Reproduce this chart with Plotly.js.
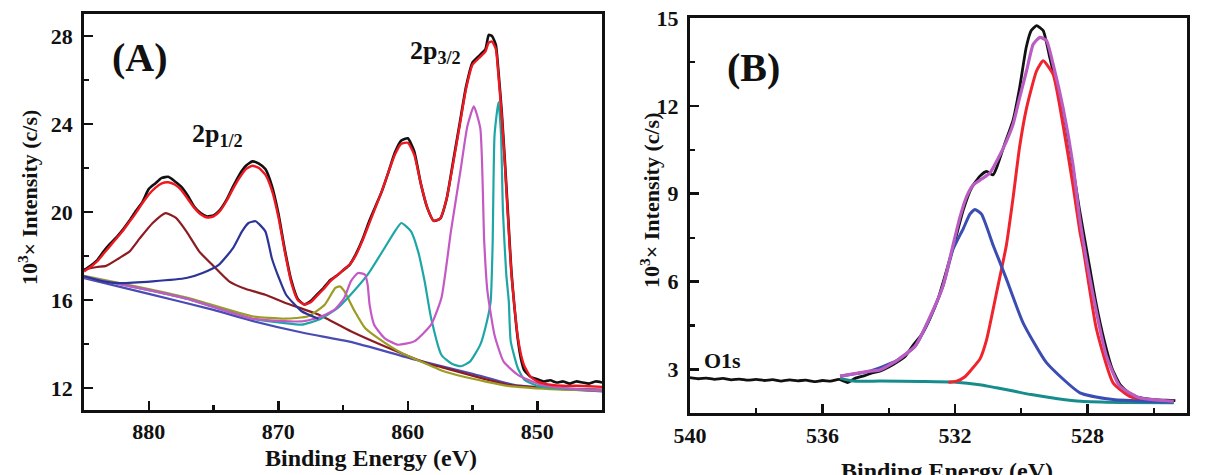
<!DOCTYPE html>
<html>
<head>
<meta charset="utf-8">
<script src="https://cdn.plot.ly/plotly-3.0.1.min.js"></script>
<style>
  html, body { margin: 0; padding: 0; background: #fff; }
  #chart { width: 1206px; height: 475px; }
</style>
</head>
<body>
<div id="chart"></div>
<script>
// ---------- Panel A: Ni 2p region ----------
const aRawE = [885.0, 884.5, 884.0, 883.5, 883.0, 882.5, 882.0, 881.5, 881.0, 880.5, 880.0, 879.5, 879.0, 878.5, 878.0, 877.5, 877.0, 876.5, 876.0, 875.5, 875.0, 874.5, 874.0, 873.5, 873.0, 872.5, 872.0, 871.5, 871.0, 870.5, 870.0, 869.5, 869.0, 868.5, 868.0, 867.5, 867.0, 866.5, 866.0, 865.5, 865.0, 864.5, 864.0, 863.5, 863.0, 862.5, 862.0, 861.5, 861.0, 860.5, 860.0, 859.5, 859.0, 858.5, 858.0, 857.5, 857.0, 856.5, 856.0, 855.5, 855.0, 854.5, 854.0, 853.75, 853.5, 853.2, 853.0, 852.75, 852.5, 852.25, 852.0, 851.75, 851.5, 851.25, 851.0, 850.5, 850.0, 849.5, 849.0, 848.5, 848.0, 847.5, 847.0, 846.5, 846.0, 845.5, 845.0];
const aRawI = [17.35, 17.55, 17.8, 18.2, 18.55, 18.85, 19.2, 19.6, 20.05, 20.45, 21.05, 21.3, 21.55, 21.6, 21.4, 21.15, 20.75, 20.25, 19.95, 19.8, 19.85, 20.1, 20.55, 21.15, 21.7, 22.1, 22.3, 22.2, 21.95, 21.2, 19.95, 18.3, 16.9, 16.05, 15.8, 15.95, 16.25, 16.55, 16.9, 17.1, 17.35, 17.6, 18.1, 18.75, 19.55, 20.25, 20.95, 21.8, 22.7, 23.25, 23.35, 22.75, 21.3, 20.2, 19.6, 19.7, 20.6, 22.3, 24.0, 25.7, 26.8, 27.1, 27.4, 28.05, 28.0, 27.6, 26.4, 24.6, 22.3, 19.8, 17.3, 15.6, 14.2, 13.3, 12.8, 12.5, 12.4, 12.3, 12.35, 12.25, 12.3, 12.2, 12.3, 12.25, 12.2, 12.3, 12.25];

const aFitE = [885.0, 884.5, 884.0, 883.5, 883.0, 882.5, 882.0, 881.5, 881.0, 880.5, 880.0, 879.5, 879.0, 878.5, 878.0, 877.5, 877.0, 876.5, 876.0, 875.5, 875.0, 874.5, 874.0, 873.5, 873.0, 872.5, 872.0, 871.5, 871.0, 870.5, 870.0, 869.5, 869.0, 868.5, 868.0, 867.5, 867.0, 866.5, 866.0, 865.5, 865.0, 864.5, 864.0, 863.5, 863.0, 862.5, 862.0, 861.5, 861.0, 860.5, 860.0, 859.5, 859.0, 858.5, 858.0, 857.5, 857.0, 856.5, 856.0, 855.5, 855.0, 854.5, 854.0, 853.75, 853.5, 853.2, 853.0, 852.75, 852.5, 852.25, 852.0, 851.75, 851.5, 851.25, 851.0, 850.5, 850.0, 849.5, 849.0, 848.0, 847.0, 846.0, 845.0];
const aFitI = [17.3, 17.5, 17.75, 18.1, 18.45, 18.8, 19.15, 19.55, 19.95, 20.4, 20.8, 21.1, 21.3, 21.35, 21.25, 21.0, 20.6, 20.2, 19.9, 19.75, 19.8, 20.05, 20.5, 21.05, 21.55, 21.95, 22.1, 22.0, 21.7, 21.0, 19.8, 18.2, 16.8, 16.0, 15.8, 15.9, 16.2, 16.5, 16.85, 17.1, 17.35, 17.6, 18.05, 18.7, 19.45, 20.2, 20.95, 21.8, 22.6, 23.1, 23.15, 22.6, 21.3, 20.2, 19.6, 19.7, 20.6, 22.2, 23.9, 25.6, 26.7, 27.0, 27.3, 27.7, 27.75, 27.4, 26.2, 24.4, 22.1, 19.6, 17.2, 15.6, 14.3, 13.5, 13.0, 12.5, 12.3, 12.2, 12.15, 12.1, 12.1, 12.08, 12.05];

const aPeak1E = [885.0, 884.0, 883.3, 882.3, 881.5, 880.7, 879.7, 878.7, 877.9, 877.1, 876.1, 875.1, 873.8, 872.5, 871.0, 869.5, 866.9, 864.4, 861.8, 858.2, 857.4, 852.3, 849.0, 845.0];
const aPeak1I = [17.38, 17.5, 17.55, 17.9, 18.2, 18.8, 19.5, 19.95, 19.73, 19.12, 18.2, 17.6, 16.85, 16.5, 16.24, 15.88, 15.34, 14.58, 13.9, 13.06, 12.95, 12.15, 12.0, 11.93];

const aPeak2E = [885.0, 883.5, 882.3, 879.7, 877.1, 875.85, 874.6, 873.5, 872.8, 872.3, 871.75, 871.0, 870.5, 869.95, 869.4, 868.2, 866.9];
const aPeak2I = [17.08, 16.85, 16.77, 16.85, 17.0, 17.23, 17.6, 18.36, 19.12, 19.5, 19.58, 19.12, 17.9, 17.0, 16.24, 15.49, 15.15];

const aBackE = [885.0, 880.0, 875.0, 872.0, 868.0, 864.4, 859.5, 855.0, 851.8, 848.0, 845.0];
const aBackI = [17.0, 16.28, 15.55, 15.05, 14.5, 14.1, 13.3, 12.65, 12.15, 11.95, 11.85];

const aPeak3E = [885.0, 880.0, 877.0, 872.0, 869.5, 867.7, 866.4, 865.6, 865.25, 864.9, 864.1, 863.3, 862.3, 860.5, 858.2, 857.4, 855.6, 852.3, 849.0, 845.0];
const aPeak3I = [17.1, 16.5, 16.1, 15.26, 15.15, 15.26, 15.8, 16.55, 16.62, 16.4, 15.49, 14.73, 14.27, 13.6, 13.0, 12.8, 12.5, 12.1, 11.95, 11.88];

const aPeak4E = [885.0, 880.0, 877.0, 872.0, 868.2, 866.9, 865.65, 864.9, 864.4, 863.85, 863.3, 863.1, 862.95, 862.6, 861.8, 860.8, 859.5, 858.2, 857.4, 856.67, 855.9, 855.4, 854.9, 854.4, 854.1, 853.85, 853.3, 852.6, 851.5, 849.75, 847.0, 845.0];
const aPeak4I = [17.05, 16.45, 16.05, 15.15, 15.03, 15.2, 15.56, 16.1, 16.85, 17.23, 17.15, 16.7, 15.79, 14.88, 14.27, 13.97, 14.12, 14.88, 16.1, 19.12, 22.0, 23.9, 24.8, 23.8, 18.67, 16.4, 14.4, 13.2, 12.6, 12.15, 11.95, 11.9];

const aPeak5E = [885.0, 880.0, 877.0, 872.05, 869.5, 868.2, 866.9, 865.4, 864.4, 863.1, 861.8, 861.0, 860.5, 859.75, 859.2, 858.7, 858.2, 857.4, 856.6, 855.9, 855.2, 854.4, 853.9, 853.6, 853.45, 853.3, 853.0, 852.8, 852.65, 852.4, 852.2, 852.05, 851.5, 851.0, 850.0, 848.0, 845.0];
const aPeak5I = [17.05, 16.45, 16.05, 15.15, 14.95, 14.88, 15.1, 15.64, 16.25, 17.15, 18.36, 19.12, 19.5, 19.12, 18.2, 16.85, 15.18, 13.5, 13.1, 12.99, 13.2, 13.97, 15.0, 15.94, 18.5, 23.5, 25.0, 23.5, 20.0, 17.2, 15.94, 14.12, 12.9, 12.38, 12.1, 11.97, 11.9];

const aXTicks = [880, 870, 860, 850];
const aYTicks = [12, 16, 20, 24, 28];

// ---------- Panel B: O 1s region ----------
const bRawE = [540.0, 539.75, 539.5, 539.25, 539.0, 538.75, 538.5, 538.25, 538.0, 537.75, 537.5, 537.25, 537.0, 536.75, 536.5, 536.25, 536.0, 535.75, 535.5, 535.25, 535.0, 534.75, 534.5, 534.25, 534.0, 533.75, 533.5, 533.25, 533.0, 532.75, 532.5, 532.25, 532.0, 531.75, 531.5, 531.25, 531.05, 530.85, 530.75, 530.5, 530.25, 530.05, 529.85, 529.7, 529.54, 529.34, 529.14, 529.0, 528.75, 528.5, 528.25, 528.0, 527.75, 527.5, 527.25, 527.0, 526.75, 526.5, 526.25, 526.0, 525.75, 525.5, 525.35];
const bRawI = [2.72, 2.68, 2.7, 2.66, 2.69, 2.64, 2.67, 2.63, 2.66, 2.62, 2.65, 2.6, 2.64, 2.61, 2.63, 2.58, 2.62, 2.6, 2.66, 2.55, 2.7, 2.78, 2.88, 2.95, 3.08, 3.25, 3.45, 3.85, 4.2, 4.75, 5.45, 6.4, 7.4, 8.45, 9.2, 9.6, 9.76, 9.64, 9.87, 10.7, 11.5, 12.62, 14.0, 14.57, 14.74, 14.57, 13.65, 13.0, 11.9, 10.3, 8.5, 6.9, 5.3, 4.0, 3.0, 2.45, 2.2, 2.05, 2.0, 1.97, 1.95, 1.94, 1.93];

const bSumE = [535.47, 534.57, 534.27, 533.77, 533.2, 532.76, 532.36, 532.06, 531.85, 531.65, 531.45, 531.2, 530.95, 530.7, 530.45, 530.25, 530.05, 529.84, 529.64, 529.44, 529.24, 529.04, 528.74, 528.44, 528.23, 527.83, 527.43, 527.03, 526.43, 525.4];
const bSumI = [2.77, 2.94, 2.98, 3.29, 3.8, 4.78, 5.86, 7.24, 8.2, 8.9, 9.3, 9.5, 9.7, 10.2, 10.79, 11.36, 12.28, 13.2, 14.1, 14.34, 14.23, 13.42, 11.93, 9.99, 8.1, 5.52, 3.46, 2.43, 2.03, 1.91];

const bHighE = [535.47, 534.57, 533.77, 533.2, 532.76, 532.36, 532.06, 531.75, 531.55, 531.4, 531.2, 530.85, 530.65, 530.45, 529.95, 529.24, 528.23, 527.23, 526.0, 525.4];
const bHighI = [2.77, 2.94, 3.29, 3.8, 4.75, 5.86, 7.1, 7.81, 8.3, 8.46, 8.3, 7.24, 6.67, 6.09, 4.6, 3.23, 2.2, 1.97, 1.9, 1.88];

const bLowE = [532.2, 531.95, 531.7, 531.5, 531.25, 531.05, 530.75, 530.45, 530.25, 530.05, 529.84, 529.54, 529.34, 529.04, 528.74, 528.44, 528.23, 528.13, 527.73, 527.23, 526.73, 526.2, 525.4];
const bLowI = [2.56, 2.6, 2.75, 3.0, 3.35, 4.0, 5.6, 7.24, 8.84, 10.6, 11.93, 13.19, 13.54, 13.08, 11.35, 9.29, 7.7, 7.12, 4.37, 2.54, 2.08, 1.95, 1.9];

const bBackE = [535.47, 535.07, 534.27, 533.0, 532.06, 531.2, 530.75, 530.2, 529.7, 528.9, 528.2, 527.0, 525.4];
const bBackI = [2.7, 2.6, 2.6, 2.59, 2.57, 2.47, 2.37, 2.25, 2.14, 2.0, 1.91, 1.87, 1.86];

const bXTicks = [540, 536, 532, 528];
const bYTicks = [3, 6, 9, 12, 15];

// ---------- drawing ----------
const SERIF = 'Liberation Serif, Times New Roman, serif';

function line(x, y, color, width, xa, ya) {
  return {
    x: x, y: y, type: 'scatter', mode: 'lines',
    line: { color: color, width: width, shape: 'spline', smoothing: 0.5 },
    xaxis: xa, yaxis: ya, hoverinfo: 'skip'
  };
}

const traces = [
  // panel A components
  line(aBackE, aBackI, '#4a4cb4', 2.2, 'x', 'y'),
  line(aPeak1E, aPeak1I, '#8c1c22', 2.2, 'x', 'y'),
  line(aPeak3E, aPeak3I, '#9c9c24', 2.2, 'x', 'y'),
  line(aPeak5E, aPeak5I, '#1ea6a6', 2.2, 'x', 'y'),
  line(aPeak4E, aPeak4I, '#c458c4', 2.2, 'x', 'y'),
  line(aPeak2E, aPeak2I, '#2c3496', 2.2, 'x', 'y'),
  line(aRawE, aRawI, '#111111', 2.6, 'x', 'y'),
  line(aFitE, aFitI, '#f01820', 2.4, 'x', 'y'),
  // panel B components
  line(bRawE, bRawI, '#111111', 2.8, 'x2', 'y2'),
  line(bBackE, bBackI, '#168c8c', 3, 'x2', 'y2'),
  line(bLowE, bLowI, '#f0242c', 3, 'x2', 'y2'),
  line(bHighE, bHighI, '#3b4db2', 3, 'x2', 'y2'),
  line(bSumE, bSumI, '#ba5cc2', 3.2, 'x2', 'y2')
];

const tickFont = { family: SERIF, size: 22, color: '#111', weight: 'bold' };

function xAxis(domain, range, ticks, minorStep, anchor) {
  return {
    anchor: anchor, domain: domain, range: range, autorange: false,
    tickvals: ticks, ticktext: ticks.map(String),
    ticks: 'inside', ticklen: 9, tickwidth: 2.5, tickcolor: '#111',
    minor: { ticks: 'inside', ticklen: 5, tickwidth: 2.2, tickcolor: '#111', dtick: minorStep, tick0: ticks[0] },
    showline: true, linewidth: 3, linecolor: '#111', mirror: true,
    showgrid: false, zeroline: false, tickfont: tickFont, ticklabelstandoff: 0
  };
}
function yAxis(domain, range, ticks, minorStep, anchor) {
  return {
    anchor: anchor, domain: domain, range: range, autorange: false,
    tickvals: ticks, ticktext: ticks.map(String),
    ticks: 'inside', ticklen: 9, tickwidth: 2.5, tickcolor: '#111',
    minor: { ticks: 'inside', ticklen: 5, tickwidth: 2.2, tickcolor: '#111', dtick: minorStep, tick0: ticks[0] },
    showline: true, linewidth: 3, linecolor: '#111', mirror: true,
    showgrid: false, zeroline: false, tickfont: tickFont, ticklabelstandoff: 4
  };
}

function label(text, x, y, size, extra) {
  return Object.assign({
    text: text, xref: 'paper', yref: 'paper', x: x, y: y,
    xanchor: 'center', yanchor: 'middle', showarrow: false,
    font: { family: SERIF, size: size, color: '#111', weight: 'bold' }
  }, extra || {});
}

const layout = {
  width: 1206, height: 475,
  margin: { l: 0, r: 0, t: 0, b: 0 },
  paper_bgcolor: '#fff', plot_bgcolor: '#fff',
  showlegend: false,
  xaxis: xAxis([0.0697, 0.4992], [885, 845], aXTicks, 5, 'y'),
  yaxis: yAxis([0.1368, 0.9705], [11, 29], aYTicks, 2, 'x'),
  xaxis2: xAxis([0.5721, 0.9842], [540, 525], bXTicks, 2, 'y2'),
  yaxis2: yAxis([0.1299, 0.9621], [1.5, 15], bYTicks, 1.5, 'x2'),
  annotations: [
    label('Binding Energy (eV)', 0.308, 0.036, 24),
    label('Binding Energy (eV)', 0.785, 0.008, 24),
    label('10<sup>3</sup>× Intensity (c/s)', 0.0232, 0.585, 22, { textangle: -90 }),
    label('10<sup>3</sup>× Intensity (c/s)', 0.539, 0.577, 22, { textangle: -90 }),
    label('(A)', 0.1161, 0.878, 40),
    label('2p<sub>1/2</sub>', 0.1575, 0.715, 26, { xanchor: 'left' }),
    label('2p<sub>3/2</sub>', 0.3383, 0.89, 26, { xanchor: 'left' }),
    label('(B)', 0.6252, 0.857, 40),
    label('O1s', 0.5995, 0.242, 22)
  ]
};

Plotly.newPlot('chart', traces, layout, { staticPlot: true, displayModeBar: false });
</script>
</body>
</html>
